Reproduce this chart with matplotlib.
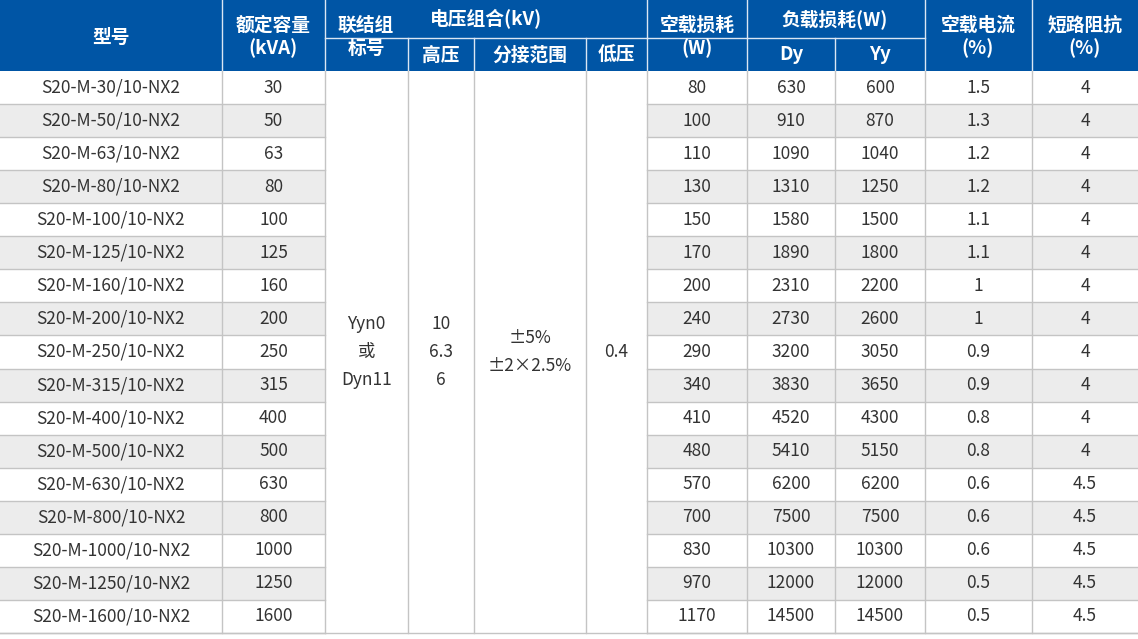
import matplotlib
matplotlib.use('Agg')
import matplotlib.pyplot as plt
from matplotlib.patches import Rectangle

plt.rcParams['font.family'] = ['Noto Sans CJK SC', 'DejaVu Sans']

models = ["S20-M-30/10-NX2", "S20-M-50/10-NX2", "S20-M-63/10-NX2", "S20-M-80/10-NX2",
          "S20-M-100/10-NX2", "S20-M-125/10-NX2", "S20-M-160/10-NX2", "S20-M-200/10-NX2",
          "S20-M-250/10-NX2", "S20-M-315/10-NX2", "S20-M-400/10-NX2", "S20-M-500/10-NX2",
          "S20-M-630/10-NX2", "S20-M-800/10-NX2", "S20-M-1000/10-NX2", "S20-M-1250/10-NX2",
          "S20-M-1600/10-NX2"]
capacity = [30, 50, 63, 80, 100, 125, 160, 200, 250, 315, 400, 500, 630, 800, 1000, 1250, 1600]
noload_loss = [80, 100, 110, 130, 150, 170, 200, 240, 290, 340, 410, 480, 570, 700, 830, 970, 1170]
load_dy = [630, 910, 1090, 1310, 1580, 1890, 2310, 2730, 3200, 3830, 4520, 5410, 6200, 7500, 10300, 12000, 14500]
load_yy = [600, 870, 1040, 1250, 1500, 1800, 2200, 2600, 3050, 3650, 4300, 5150, 6200, 7500, 10300, 12000, 14500]
noload_current = ["1.5", "1.3", "1.2", "1.2", "1.1", "1.1", "1", "1", "0.9", "0.9", "0.8", "0.8",
                  "0.6", "0.6", "0.6", "0.5", "0.5"]
impedance = ["4"] * 12 + ["4.5"] * 5
group_text = "Yyn0\n或\nDyn11"
hv_text = "10\n6.3\n6"
tap_text = "±5%\n±2×2.5%"
lv_text = "0.4"

W, H = 1138, 639
fig = plt.figure(figsize=(W / 100, H / 100), dpi=100)
ax = fig.add_axes([0, 0, 1, 1])
ax.set_xlim(0, W)
ax.set_ylim(H, 0)
ax.axis('off')

blue = '#0055a5'
grey = '#ececec'
line = '#c4c4c4'
txt = '#333333'

xs = [0, 222, 325, 408, 474, 586, 647, 747, 835, 925, 1032, 1138]
top = 71
rh = (633 - top) / len(models)

# header
ax.add_patch(Rectangle((0, 0), W, top, color=blue, lw=0))
hl = dict(color='#dbe6f3', lw=1)
for x in xs[1:-1]:
    if x in (408, 474, 586):
        ax.plot([x, x], [38, top], **hl)
    elif x == 835:
        ax.plot([x, x], [38, top], **hl)
    else:
        ax.plot([x, x], [0, top], **hl)
ax.plot([325, 647], [38, 38], **hl)
ax.plot([647, 925], [38, 38], **hl)
hs = dict(color='white', fontsize=13.5, fontweight='bold', ha='center', va='center')
ax.text(111, 37, "型号", **hs)
ax.text(273, 37, "额定容量\n(kVA)", linespacing=1.25, **hs)
ax.text(366, 37, "联结组\n标号", linespacing=1.25, **hs)
ax.text(486, 19, "电压组合(kV)", **hs)
ax.text(441, 55, "高压", **hs)
ax.text(530, 55, "分接范围", **hs)
ax.text(616, 55, "低压", **hs)
ax.text(697, 37, "空载损耗\n(W)", linespacing=1.25, **hs)
ax.text(835, 19, "负载损耗(W)", **hs)
ax.text(791, 55, "Dy", **hs)
ax.text(880, 55, "Yy", **hs)
ax.text(978, 37, "空载电流\n(%)", linespacing=1.25, **hs)
ax.text(1085, 37, "短路阻抗\n(%)", linespacing=1.25, **hs)

# body
merged = [(325, 408), (408, 474), (474, 586), (586, 647)]
for i in range(len(models)):
    y = top + i * rh
    if i % 2 == 1:
        ax.add_patch(Rectangle((0, y), 325, rh, color=grey, lw=0))
        ax.add_patch(Rectangle((647, y), W - 647, rh, color=grey, lw=0))
    ax.plot([0, 325], [y + rh, y + rh], color=line, lw=1)
    ax.plot([647, W], [y + rh, y + rh], color=line, lw=1)
    vals = [models[i], capacity[i], noload_loss[i], load_dy[i], load_yy[i],
            noload_current[i], impedance[i]]
    cols = [0, 1, 6, 7, 8, 9, 10]
    for v, c in zip(vals, cols):
        ax.text((xs[c] + xs[c + 1]) / 2, y + rh / 2, str(v), color=txt, fontsize=12.5,
                ha='center', va='center')
for x in xs[1:-1]:
    ax.plot([x, x], [top, 633], color=line, lw=1)
ax.plot([0, W], [633, 633], color=line, lw=1)

mid = (top + 633) / 2
for (a, b), t in zip(merged, [group_text, hv_text, tap_text, lv_text]):
    ax.text((a + b) / 2, mid, t, color=txt, fontsize=12.5, ha='center', va='center',
            linespacing=1.7)

fig.savefig('out.png', dpi=100)
